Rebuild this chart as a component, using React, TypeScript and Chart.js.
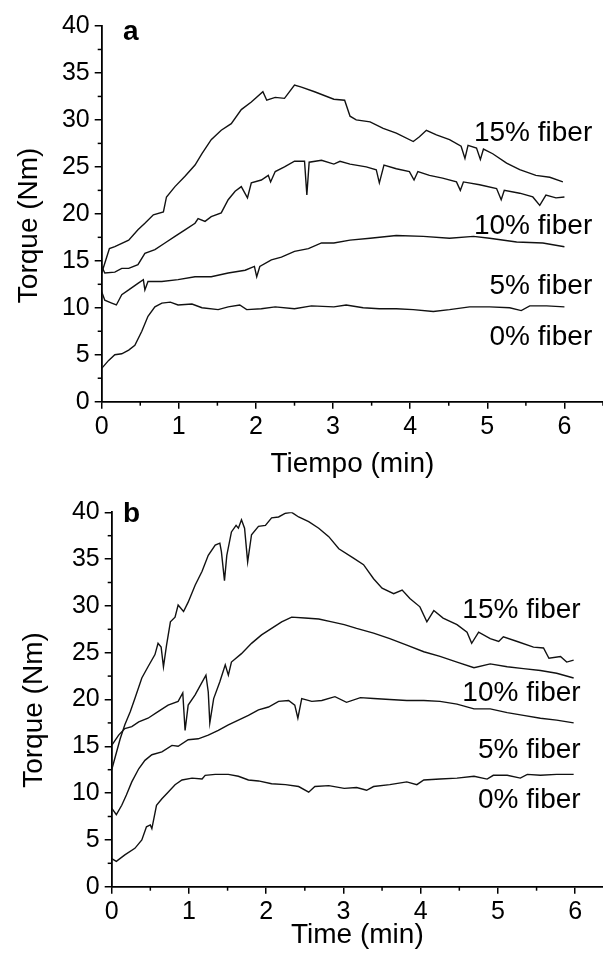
import React, { useEffect, useRef } from 'react';
import { Chart, registerables } from 'chart.js';
Chart.register(...registerables);

const FONT = '"Liberation Sans", Arial, Helvetica, sans-serif';

// ---------- Panel a (Tiempo) ----------
const aTime15 = [0, 0.05, 0.1, 0.17, 0.35, 0.47, 0.56, 0.67, 0.80, 0.84, 0.95, 1.08, 1.21, 1.30, 1.42, 1.55, 1.68, 1.81, 1.94, 2.09, 2.14, 2.25, 2.37, 2.50, 2.59, 2.76, 3.01, 3.15, 3.22, 3.30, 3.48, 3.65, 3.82, 4.04, 4.12, 4.21, 4.34, 4.51, 4.66, 4.71, 4.75, 4.86, 4.91, 4.95, 5.07, 5.25, 5.42, 5.63, 5.81, 5.98];
const aTorque15 = [13.7, 15.0, 16.3, 16.5, 17.2, 18.3, 19.0, 19.9, 20.2, 21.8, 22.9, 24.0, 25.2, 26.4, 27.9, 28.9, 29.6, 31.1, 31.9, 33.0, 32.1, 32.4, 32.3, 33.7, 33.5, 33.0, 32.2, 32.1, 30.4, 30.0, 29.8, 29.1, 28.6, 27.7, 28.2, 28.9, 28.4, 27.9, 27.2, 25.9, 27.3, 27.0, 25.8, 26.9, 26.4, 25.4, 24.7, 24.1, 23.9, 23.4];

const aTime10 = [0, 0.04, 0.17, 0.26, 0.35, 0.47, 0.56, 0.69, 0.82, 0.95, 1.08, 1.21, 1.25, 1.34, 1.42, 1.55, 1.64, 1.73, 1.81, 1.89, 1.94, 2.07, 2.16, 2.19, 2.25, 2.37, 2.50, 2.63, 2.66, 2.69, 2.85, 3.01, 3.09, 3.22, 3.43, 3.56, 3.60, 3.66, 3.82, 3.99, 4.05, 4.10, 4.25, 4.42, 4.60, 4.65, 4.69, 4.90, 5.12, 5.18, 5.22, 5.42, 5.59, 5.68, 5.76, 5.89, 6.00];
const aTorque10 = [14.4, 13.7, 13.8, 14.2, 14.2, 14.6, 15.8, 16.2, 16.9, 17.6, 18.3, 19.0, 19.5, 19.2, 19.7, 20.1, 21.5, 22.4, 22.9, 21.7, 23.3, 23.6, 24.1, 23.4, 24.5, 25.0, 25.6, 25.6, 22.0, 25.5, 25.7, 25.3, 25.6, 25.3, 25.0, 24.7, 23.3, 25.2, 24.8, 24.5, 23.6, 24.5, 24.1, 23.8, 23.4, 22.5, 23.4, 23.1, 22.7, 21.5, 22.5, 22.2, 21.8, 20.9, 22.0, 21.7, 21.8];

const aTime5 = [0, 0.04, 0.13, 0.19, 0.26, 0.35, 0.47, 0.54, 0.56, 0.60, 0.78, 0.99, 1.21, 1.42, 1.64, 1.86, 1.98, 2.01, 2.05, 2.20, 2.33, 2.50, 2.68, 2.85, 3.01, 3.22, 3.48, 3.82, 4.17, 4.51, 4.82, 5.03, 5.38, 5.72, 6.00];
const aTorque5 = [11.7, 10.8, 10.5, 10.3, 11.4, 11.9, 12.6, 13.0, 11.9, 12.8, 12.8, 13.0, 13.3, 13.3, 13.7, 14.0, 14.4, 13.3, 14.4, 15.1, 15.4, 16.0, 16.3, 16.9, 16.9, 17.2, 17.4, 17.7, 17.6, 17.4, 17.6, 17.4, 17.0, 16.9, 16.5];

const aTime0 = [0, 0.09, 0.17, 0.26, 0.35, 0.43, 0.52, 0.60, 0.69, 0.78, 0.89, 0.99, 1.17, 1.30, 1.51, 1.64, 1.79, 1.88, 2.07, 2.25, 2.50, 2.72, 3.01, 3.17, 3.39, 3.60, 3.82, 4.04, 4.30, 4.51, 4.77, 5.03, 5.29, 5.44, 5.55, 5.77, 6.00];
const aTorque0 = [3.55, 4.4, 5.0, 5.1, 5.5, 6.0, 7.5, 9.1, 10.1, 10.5, 10.6, 10.3, 10.4, 10.0, 9.8, 10.1, 10.3, 9.8, 9.9, 10.1, 9.9, 10.2, 10.1, 10.3, 10.0, 9.9, 9.9, 9.8, 9.6, 9.8, 10.1, 10.1, 10.0, 9.7, 10.2, 10.2, 10.1];

// ---------- Panel b (Time) ----------
const bTime15 = [0, 0.04, 0.11, 0.17, 0.24, 0.30, 0.39, 0.47, 0.56, 0.60, 0.64, 0.67, 0.71, 0.76, 0.82, 0.86, 0.93, 0.99, 1.08, 1.17, 1.25, 1.34, 1.40, 1.42, 1.46, 1.49, 1.55, 1.61, 1.64, 1.68, 1.72, 1.76, 1.81, 1.90, 1.99, 2.07, 2.16, 2.25, 2.33, 2.42, 2.55, 2.68, 2.81, 2.94, 3.13, 3.26, 3.39, 3.50, 3.65, 3.76, 3.86, 3.99, 4.08, 4.17, 4.29, 4.47, 4.60, 4.66, 4.75, 4.90, 5.01, 5.07, 5.25, 5.46, 5.59, 5.66, 5.81, 5.89, 5.98];
const bTorque15 = [12.5, 13.7, 15.8, 17.3, 18.7, 20.1, 22.3, 23.5, 24.8, 26.0, 25.6, 23.5, 25.8, 28.3, 28.8, 30.1, 29.4, 30.4, 32.2, 33.7, 35.4, 36.5, 36.7, 35.8, 32.7, 35.4, 37.9, 38.6, 38.3, 39.2, 38.3, 34.7, 37.6, 38.5, 38.6, 39.4, 39.5, 39.9, 40.0, 39.5, 39.0, 38.3, 37.4, 36.1, 35.1, 34.4, 32.9, 31.9, 31.3, 31.7, 30.8, 29.9, 28.3, 29.5, 28.7, 28.0, 27.2, 26.0, 27.2, 26.5, 26.2, 26.7, 26.2, 25.6, 25.5, 24.4, 24.6, 24.0, 24.2];

const bTime10 = [0, 0.09, 0.17, 0.26, 0.35, 0.47, 0.60, 0.73, 0.86, 0.92, 0.95, 0.99, 1.08, 1.14, 1.22, 1.25, 1.27, 1.32, 1.40, 1.47, 1.51, 1.55, 1.68, 1.81, 1.94, 2.07, 2.20, 2.33, 2.50, 2.68, 2.85, 3.01, 3.17, 3.39, 3.60, 3.82, 4.04, 4.25, 4.47, 4.69, 4.90, 5.12, 5.33, 5.55, 5.76, 5.98];
const bTorque10 = [15.1, 16.2, 16.9, 17.1, 17.6, 18.0, 18.7, 19.4, 19.8, 20.7, 16.7, 19.4, 20.5, 21.4, 22.6, 20.8, 17.5, 20.1, 21.9, 23.7, 22.6, 24.0, 24.9, 26.0, 26.9, 27.6, 28.3, 28.8, 28.7, 28.6, 28.3, 28.0, 27.6, 27.1, 26.5, 25.8, 25.1, 24.6, 24.0, 23.4, 23.8, 23.5, 23.3, 23.1, 22.8, 22.3];

const bTime5 = [0, 0.06, 0.13, 0.19, 0.26, 0.35, 0.43, 0.52, 0.65, 0.78, 0.86, 0.99, 1.12, 1.25, 1.38, 1.51, 1.64, 1.77, 1.90, 2.03, 2.16, 2.29, 2.37, 2.41, 2.46, 2.59, 2.72, 2.89, 3.04, 3.22, 3.39, 3.60, 3.82, 4.04, 4.25, 4.47, 4.69, 4.90, 5.12, 5.33, 5.55, 5.76, 5.98];
const bTorque5 = [8.4, 7.7, 8.7, 9.8, 11.2, 12.6, 13.5, 14.1, 14.4, 15.1, 15.0, 15.7, 15.8, 16.2, 16.7, 17.3, 17.8, 18.3, 18.9, 19.2, 19.8, 19.9, 19.4, 18.0, 20.1, 19.8, 19.9, 20.3, 19.7, 20.2, 20.1, 20.0, 19.9, 19.9, 19.8, 19.5, 19.0, 19.0, 18.6, 18.3, 18.0, 17.8, 17.5];

const bTime0 = [0, 0.06, 0.17, 0.30, 0.39, 0.45, 0.50, 0.52, 0.58, 0.65, 0.73, 0.82, 0.91, 1.04, 1.17, 1.21, 1.34, 1.51, 1.64, 1.77, 1.90, 2.07, 2.25, 2.42, 2.55, 2.63, 2.81, 3.01, 3.17, 3.30, 3.39, 3.60, 3.82, 3.95, 4.04, 4.25, 4.47, 4.69, 4.86, 4.94, 5.12, 5.29, 5.38, 5.55, 5.76, 5.98];
const bTorque0 = [3.0, 2.7, 3.4, 4.1, 5.0, 6.4, 6.6, 6.2, 8.7, 9.4, 10.1, 10.9, 11.4, 11.6, 11.5, 11.9, 12.0, 12.0, 11.8, 11.4, 11.3, 11.0, 10.9, 10.7, 10.1, 10.7, 10.8, 10.5, 10.6, 10.3, 10.7, 10.9, 11.2, 10.9, 11.4, 11.5, 11.6, 11.8, 11.5, 11.9, 11.9, 11.6, 12.0, 11.9, 12.0, 12.0];

// Series labels and their anchor (time at right edge of text, torque at baseline)
const seriesNames = ['15% fiber', '10% fiber', '5% fiber', '0% fiber'];
const aLabelTime = [6.36, 6.36, 6.36, 6.36];
const aLabelTorque = [27.8, 17.9, 11.5, 6.0];
const bLabelTime = [6.07, 6.07, 6.07, 6.07];
const bLabelTorque = [28.7, 19.8, 13.7, 8.4];

const yTitle = 'Torque (Nm)';

const zip = (t: number[], v: number[]) => t.map((x, i) => ({ x, y: v[i] }));

interface PanelCfg {
  letter: string;
  xTitle: string;
  xMax: number;
  series: { x: number; y: number }[][];
  labelTime: number[];
  labelTorque: number[];
  left: number;
  top: number;
  bottom: number;
  xTitleDy: number;
  yTitleX: number;
  yTitleDy: number;
  letterX: number;
  letterY: number;
}

const panels: PanelCfg[] = [
  {
    letter: 'a',
    xTitle: 'Tiempo (min)',
    xMax: 6.5,
    series: [zip(aTime15, aTorque15), zip(aTime10, aTorque10), zip(aTime5, aTorque5), zip(aTime0, aTorque0)],
    labelTime: aLabelTime,
    labelTorque: aLabelTorque,
    left: 101.7,
    top: 26,
    bottom: 401.7,
    xTitleDy: 70,
    yTitleX: 37,
    yTitleDy: 11.5,
    letterX: 123,
    letterY: 40,
  },
  {
    letter: 'b',
    xTitle: 'Time (min)',
    xMax: 6.36,
    series: [zip(bTime15, bTorque15), zip(bTime10, bTorque10), zip(bTime5, bTorque5), zip(bTime0, bTorque0)],
    labelTime: bLabelTime,
    labelTorque: bLabelTorque,
    left: 111.7,
    top: 32.3,
    bottom: 406.7,
    xTitleDy: 56,
    yTitleX: 42,
    yTitleDy: 10.5,
    letterX: 123,
    letterY: 41.7,
  },
];

const W = 603;
const H = 480;

function Panel({ cfg }: { cfg: PanelCfg }) {
  const ref = useRef<HTMLCanvasElement | null>(null);
  useEffect(() => {
    if (!ref.current) return;
    const decor = {
      id: 'decor',
      afterDraw(chart: any) {
        const { ctx, chartArea: ca, scales } = chart;
        const x = scales.x;
        const y = scales.y;
        ctx.save();
        ctx.strokeStyle = '#000';
        ctx.lineWidth = 1.5;
        // minor ticks
        for (let v = 2.5; v < 40; v += 5) {
          const py = y.getPixelForValue(v);
          ctx.beginPath();
          ctx.moveTo(ca.left - 4, py);
          ctx.lineTo(ca.left, py);
          ctx.stroke();
        }
        for (let t = 0.5; t <= cfg.xMax + 0.001; t += 1) {
          const px = x.getPixelForValue(t);
          ctx.beginPath();
          ctx.moveTo(px, ca.bottom);
          ctx.lineTo(px, ca.bottom + 4);
          ctx.stroke();
        }
        ctx.fillStyle = '#000';
        // series labels
        ctx.font = `28px ${FONT}`;
        ctx.textAlign = 'right';
        ctx.textBaseline = 'alphabetic';
        seriesNames.forEach((name, i) => {
          ctx.fillText(name, x.getPixelForValue(cfg.labelTime[i]), y.getPixelForValue(cfg.labelTorque[i]));
        });
        // panel letter
        ctx.font = `bold 28px ${FONT}`;
        ctx.textAlign = 'left';
        ctx.fillText(cfg.letter, cfg.letterX, cfg.letterY);
        // x title
        ctx.font = `28px ${FONT}`;
        ctx.textAlign = 'center';
        ctx.fillText(cfg.xTitle, (ca.left + ca.right) / 2, ca.bottom + cfg.xTitleDy);
        // y title
        ctx.translate(cfg.yTitleX, (ca.top + ca.bottom) / 2 + cfg.yTitleDy);
        ctx.rotate(-Math.PI / 2);
        ctx.fillText(yTitle, 0, 0);
        ctx.restore();
      },
    };
    const chart = new Chart(ref.current, {
      type: 'line',
      data: {
        datasets: cfg.series.map((d, i) => ({
          label: seriesNames[i],
          data: d,
          borderColor: '#111',
          borderWidth: 1.4,
          pointRadius: 0,
          tension: 0,
          fill: false,
        })),
      },
      options: {
        animation: false,
        responsive: false,
        devicePixelRatio: 1,
        layout: { padding: { left: 0, top: cfg.top, right: 0, bottom: 0 } },
        plugins: { legend: { display: false }, tooltip: { enabled: false } },
        scales: {
          x: {
            type: 'linear',
            min: 0,
            max: cfg.xMax,
            afterFit: (s: any) => {
              s.height = H - cfg.bottom;
            },
            border: { color: '#000', width: 1.8 },
            grid: { drawOnChartArea: false, color: '#000', tickLength: 7, lineWidth: 1.5 },
            ticks: {
              stepSize: 1,
              includeBounds: false,
              color: '#000',
              padding: 3,
              maxRotation: 0,
              font: { family: FONT, size: 25 },
            },
          },
          y: {
            type: 'linear',
            min: 0,
            max: 40,
            afterFit: (s: any) => {
              s.width = cfg.left;
            },
            border: { color: '#000', width: 1.8 },
            grid: { drawOnChartArea: false, color: '#000', tickLength: 7, lineWidth: 1.5 },
            ticks: {
              stepSize: 5,
              color: '#000',
              padding: 5,
              font: { family: FONT, size: 25 },
            },
          },
        },
      },
      plugins: [decor],
    } as any);
    return () => chart.destroy();
  }, [cfg]);
  return <canvas ref={ref} width={W} height={H} style={{ display: 'block', width: W, height: H }} />;
}

export default function App() {
  return (
    <div style={{ position: 'absolute', left: 0, top: 0, width: W, height: 960, background: '#fff' }}>
      {panels.map((p) => (
        <Panel key={p.letter} cfg={p} />
      ))}
    </div>
  );
}
